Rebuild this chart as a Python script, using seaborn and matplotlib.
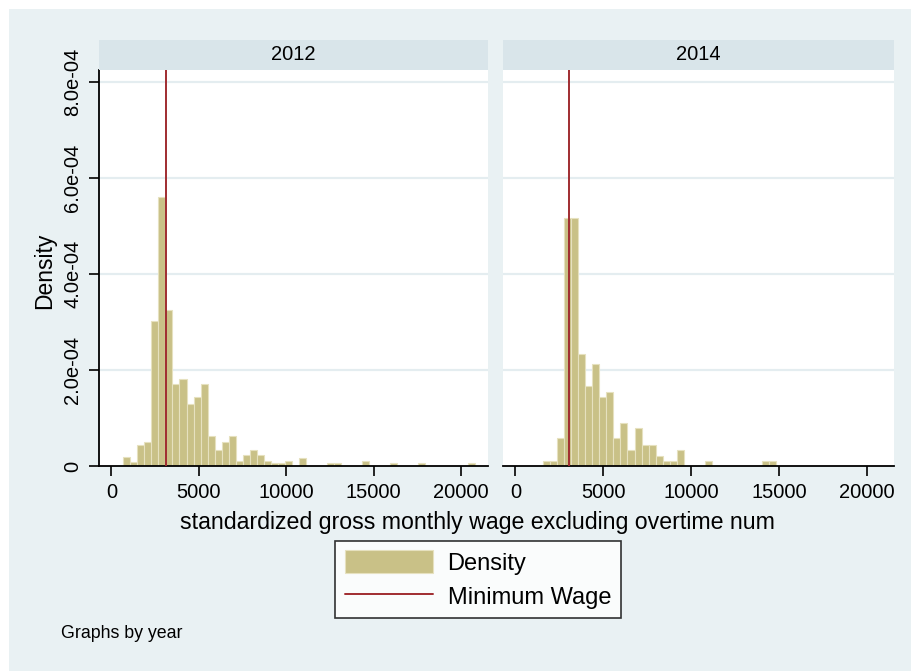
import numpy as np
import pandas as pd
import matplotlib
matplotlib.use("Agg")
import matplotlib.pyplot as plt
import seaborn as sns
from matplotlib.patches import Rectangle, Patch
from matplotlib.lines import Line2D

sns.set_style("white")
plt.rcParams["font.family"] = ["Liberation Sans", "DejaVu Sans"]
plt.rcParams["text.color"] = "black"
plt.rcParams["xtick.color"] = "black"
plt.rcParams["ytick.color"] = "black"

# Histogram bins (wage units) and bar densities (in units of 1e-4)
years = ["2012", "2014"]
bin_width = 402
bin_start_2012 = 684
bin_start_2014 = 1554
density_2012 = [0.18, 0.077, 0.44, 0.505, 3.03, 5.60, 3.26, 1.70, 1.81, 1.30,
                1.44, 1.70, 0.62, 0.33, 0.505, 0.62, 0.10, 0.22, 0.33, 0.22,
                0.10, 0.07, 0.07, 0.10, 0.0, 0.17, 0.0, 0.0, 0.0, 0.07,
                0.07, 0.0, 0.0, 0.0, 0.10, 0.0, 0.0, 0.0, 0.07, 0.0,
                0.0, 0.0, 0.07, 0.0, 0.0, 0.0, 0.0, 0.0, 0.0, 0.07]
density_2014 = [0.11, 0.11, 0.575, 5.17, 5.17, 2.34, 1.66, 2.13, 1.44, 1.55,
                0.575, 0.90, 0.33, 0.79, 0.43, 0.43, 0.21, 0.10, 0.10, 0.33,
                0.0, 0.0, 0.0, 0.10, 0.0, 0.0, 0.0, 0.0, 0.0, 0.0,
                0.0, 0.10, 0.10]
min_wage_2012 = 3115
min_wage_2014 = 3060

x_ticks = [0, 5000, 10000, 15000, 20000]
y_ticks = [0, 2e-4, 4e-4, 6e-4, 8e-4]
y_tick_labels = ["0", "2.0e-04", "4.0e-04", "6.0e-04", "8.0e-04"]

panels = {
    "2012": (bin_start_2012, density_2012, min_wage_2012),
    "2014": (bin_start_2014, density_2014, min_wage_2014),
}

BG = "#E9F1F3"
STRIP = "#D9E5EA"
GRID = "#E4EDF0"
BAR = "#C9C187"
BAR_EDGE = "#E6E1BF"
LINE = "#A02C30"

W, H = 912, 671
fig = plt.figure(figsize=(W / 100, H / 100), dpi=100, facecolor="white")
fig.patches.append(Rectangle((9 / W, 0), 1 - 9 / W, 1 - 9 / H,
                             transform=fig.transFigure, facecolor=BG,
                             edgecolor="none", zorder=-10))


def px_rect(x0, y0, x1, y1):
    return [x0 / W, 1 - y1 / H, (x1 - x0) / W, (y1 - y0) / H]


panel_px = {"2012": (99, 488), "2014": (503, 894)}
top_px, bottom_px, strip_top = 70, 466, 40

for i, yr in enumerate(years):
    start, dens, mw = panels[yr]
    x0, x1 = panel_px[yr]
    ax = fig.add_axes(px_rect(x0, top_px, x1, bottom_px))
    ax.set_facecolor("white")

    dens = np.array(dens) * 1e-4
    edges = start + bin_width * np.arange(len(dens) + 1)
    centers = (edges[:-1] + edges[1:]) / 2
    df = pd.DataFrame({"wage": centers, "density": dens})
    for yv in y_ticks[1:]:
        ax.axhline(yv, color=GRID, lw=1.6, zorder=0)
    sns.histplot(data=df, x="wage", weights="density",
                 bins=[float(e) for e in edges],
                 stat="count", ax=ax, color=BAR, edgecolor=BAR_EDGE,
                 linewidth=0.8, alpha=1, zorder=2)
    ax.axvline(mw, color=LINE, lw=1.4, zorder=3)

    ax.set_xlim(-705, 21550)
    ax.set_ylim(0, 8.25e-4)
    ax.set_xticks(x_ticks)
    ax.set_xticklabels([str(t) for t in x_ticks], fontsize=14.5)
    ax.set_xlabel("")
    ax.set_ylabel("")
    for s in ["top", "right"]:
        ax.spines[s].set_visible(False)
    ax.spines["bottom"].set_color("black")
    ax.spines["bottom"].set_linewidth(1.3)
    ax.tick_params(axis="x", direction="out", length=7, width=1.2,
                   pad=5, colors="black", bottom=True)
    if i == 0:
        ax.spines["left"].set_color("black")
        ax.spines["left"].set_linewidth(1.3)
        ax.set_yticks(y_ticks)
        ax.set_yticklabels(y_tick_labels, fontsize=14.5, rotation=90,
                           va="center")
        ax.tick_params(axis="y", direction="out", length=7, width=1.2,
                       pad=5, colors="black", left=True)
    else:
        ax.spines["left"].set_visible(False)
        ax.set_yticks(y_ticks)
        ax.tick_params(axis="y", left=False, labelleft=False)

    sax = fig.add_axes(px_rect(x0, strip_top, x1, top_px))
    sax.set_facecolor(STRIP)
    sax.set_xticks([])
    sax.set_yticks([])
    for s in sax.spines.values():
        s.set_visible(False)
    sax.text(0.5, 0.5, yr, ha="center", va="center", fontsize=14.5,
             color="black", transform=sax.transAxes)

fig.text(45 / W, 1 - 271 / H, "Density", rotation=90, ha="center",
         va="center", fontsize=16.5, color="black")
fig.text(477 / W, 1 - 522 / H,
         "standardized gross monthly wage excluding overtime num",
         ha="center", va="center", fontsize=16.7, color="black")

handles = [Patch(facecolor=BAR, edgecolor=BAR_EDGE, linewidth=0.8),
           Line2D([0], [0], color=LINE, lw=1.4)]
leg = fig.legend(handles, ["Density", "Minimum Wage"], loc="center",
                 bbox_to_anchor=(478 / W, 1 - 579.5 / H), fontsize=17,
                 frameon=True, fancybox=False, edgecolor="black",
                 handlelength=3.75, handleheight=1.1, borderpad=0.4,
                 labelspacing=0.4, handletextpad=0.6, borderaxespad=0)
leg.get_frame().set_linewidth(1.2)
leg.get_frame().set_facecolor("white")
for t in leg.get_texts():
    t.set_color("black")

fig.text(61 / W, 1 - 634 / H, "Graphs by year", ha="left", va="center",
         fontsize=12.8, color="black")

fig.savefig("out.png", dpi=100, facecolor=fig.get_facecolor())
